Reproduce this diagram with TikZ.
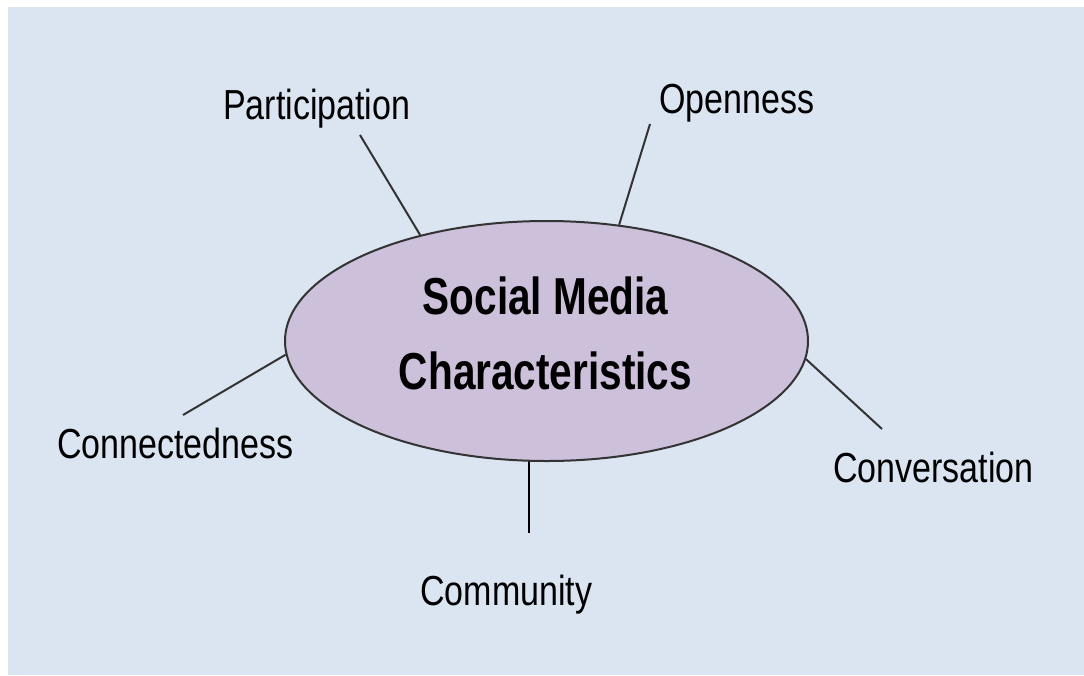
\documentclass[tikz,border=0pt]{standalone}
\usepackage{fontspec}
\usetikzlibrary{shapes.geometric}
\newfontfamily\labfont[FakeStretch=0.81]{Liberation Sans}
\newfontfamily\titfont[FakeStretch=0.78]{Liberation Sans Bold}
\definecolor{bgblue}{HTML}{DBE5F1}
\definecolor{lav}{HTML}{CCC0DA}
\definecolor{edgegray}{HTML}{333333}
\tikzset{
  lab/.style={anchor=base west, inner sep=0pt, font=\labfont\fontsize{42}{50}\selectfont, text=black},
  conn/.style={draw=edgegray, line width=2pt},
  hub/.style={ellipse, draw=edgegray, line width=2pt, fill=lav, minimum width=523pt, minimum height=240pt, inner sep=0pt},
  title/.style={align=center, inner sep=0pt, font=\titfont\fontsize{52}{74.5}\selectfont, text=black}
}
\begin{document}
\begin{tikzpicture}[x=1pt,y=-1pt]
\useasboundingbox (0,0) rectangle (1084,675);
\fill[white] (0,0) rectangle (1084,675);
\fill[bgblue] (8,7) rectangle (1084,675);
\coordinate (pp) at (360,135);
\coordinate (po) at (650,124);
\coordinate (pcd) at (183,415);
\coordinate (pcv) at (882,429);
\coordinate (pcm) at (529,533);
\draw[conn, draw=black] (pcm) -- (pcm |- 0,455);
\node[hub] (c) at (546.5,341) {};
\node[title] (t) at (545.5,333.5) {Social Media\\Characteristics};
\draw[conn] (c.140) -- (pp);
\draw[conn] (c.58.4) -- (po);
\draw[conn] (c.183.1) -- (pcd);
\draw[conn] (c.356.5) -- (pcv);
\node[lab] (participation) at (223,119) {Participation};
\node[lab] (openness) at (659,113) {Openness};
\node[lab] (connectedness) at (57,458) {Connectedness};
\node[lab] (conversation) at (833,482) {Conversation};
\node[lab] (community) at (420,605) {Community};
\end{tikzpicture}
\end{document}
